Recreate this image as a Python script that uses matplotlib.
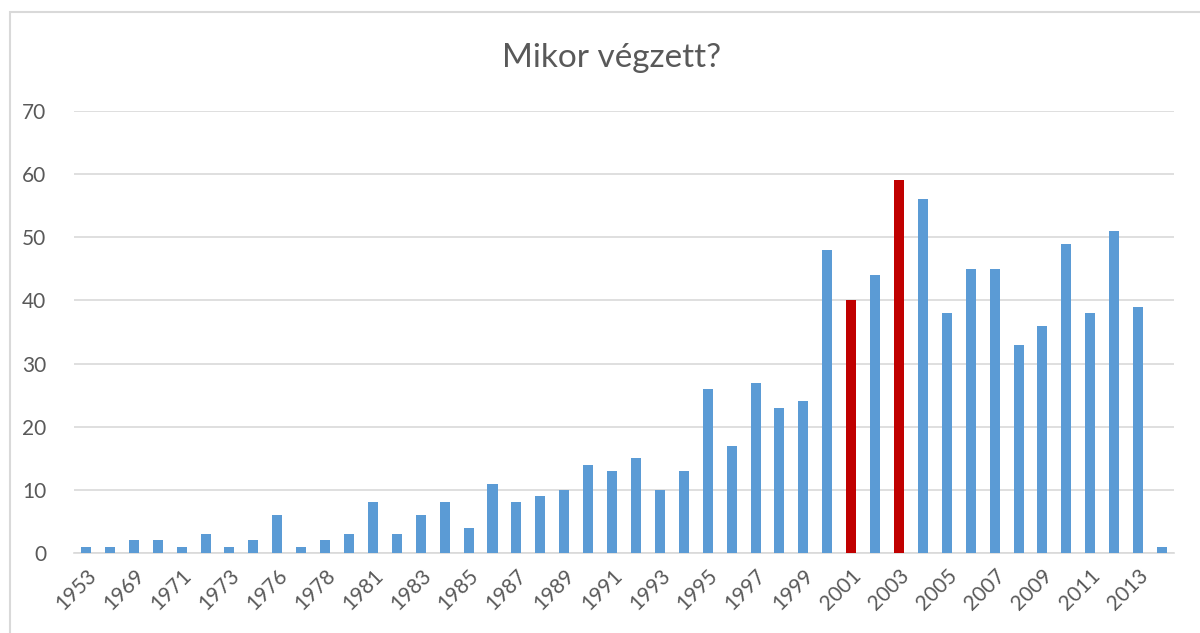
import numpy as np
import matplotlib
matplotlib.use("Agg")
import matplotlib.pyplot as plt
from matplotlib.patches import Rectangle

# Data
years = [1953, 1966, 1969, 1970, 1971, 1972, 1973, 1975, 1976, 1977,
         1978, 1980, 1981, 1982, 1983, 1984] + list(range(1985, 2015))
counts = [1, 1, 2, 2, 1, 3, 1, 2, 6, 1,
          2, 3, 8, 3, 6, 8, 4, 11, 8, 9,
          10, 14, 13, 15, 10, 13, 26, 17, 27, 23,
          24, 48, 40, 44, 59, 56, 38, 45, 45, 33,
          36, 49, 38, 51, 39, 1]
highlight = [2001, 2003]

blue = "#5B9BD5"
red = "#C00000"
text_col = "#595959"
grid_col = "#D9D9D9"

plt.rcParams["font.family"] = ["Lato", "DejaVu Sans"]

fig = plt.figure(figsize=(12, 6.33), dpi=100)
ax = fig.add_axes([74 / 1200, 1 - 553 / 633, 1100 / 1200, (553 - 111) / 633])

x = np.arange(len(years))
colors = [red if y in highlight else blue for y in years]
ax.bar(x, counts, width=0.42, color=colors, zorder=3)

ax.set_xlim(-0.5, len(years) - 0.5)
ax.set_ylim(0, 70)
ax.set_yticks(range(0, 71, 10))
ax.yaxis.grid(True, color=grid_col, linewidth=1.2, zorder=0)
ax.tick_params(axis="y", length=0, pad=20, labelsize=15, labelcolor=text_col)

ax.set_xticks(x[::2])
ax.set_xticklabels([str(y) for y in years[::2]], rotation=45, ha="right",
                   rotation_mode="anchor", fontsize=15, color=text_col)
ax.tick_params(axis="x", length=0, pad=9)

for s in ["top", "right", "left"]:
    ax.spines[s].set_visible(False)
ax.spines["bottom"].set_color(grid_col)
ax.spines["bottom"].set_linewidth(1.2)

fig.text(0.51, 1 - 58 / 633, "Mikor végzett?", ha="center", va="center",
         fontsize=24, color=text_col)

# chart border
fig.patches.append(Rectangle((10 / 1200, -0.1), 1.2, 1 - 12 / 633 + 0.1,
                             transform=fig.transFigure, fill=False,
                             edgecolor=grid_col, linewidth=1.5))

fig.savefig("out.png", dpi=100)
